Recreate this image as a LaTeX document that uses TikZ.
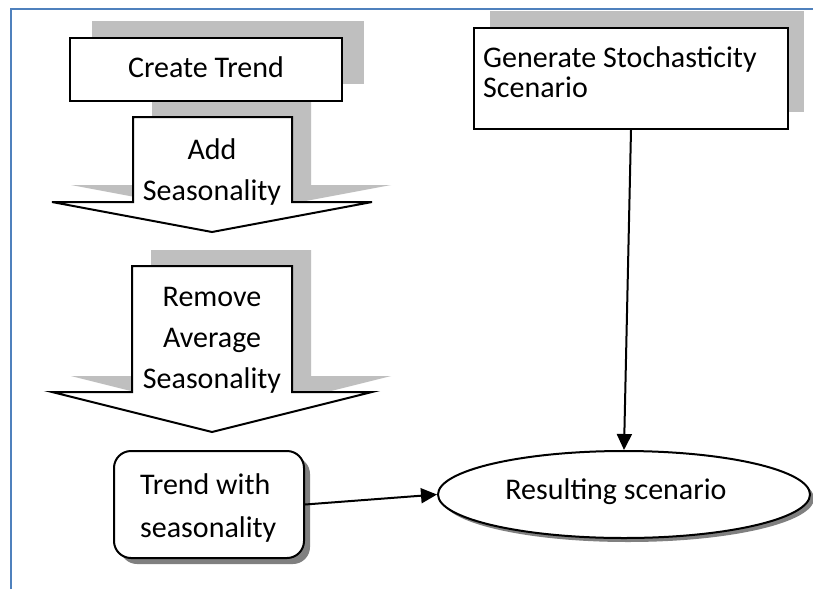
\documentclass[tikz,border=0pt]{standalone}
\usepackage{fontspec}
\setmainfont{Carlito}
\usetikzlibrary{shapes.geometric,arrows.meta,shadows}
\definecolor{framecol}{RGB}{79,129,189}
\definecolor{lightshadow}{RGB}{191,191,191}
\definecolor{darkshadow}{RGB}{128,128,128}
\begin{document}
\begin{tikzpicture}[x=1pt,y=-1pt,
  outline/.style={draw=black,line width=2pt,fill=white},
  boxshape/.style={outline,rectangle,inner sep=0pt},
  txt/.style={inner sep=0pt,font=\fontsize{30}{41}\selectfont},
  conn/.style={line width=2pt,-{Triangle[length=16pt,width=15pt]}},
  liftshadow/.style={drop shadow={shadow xshift=#1,shadow yshift=17pt,fill=lightshadow,opacity=1}},
  lowshadow/.style={drop shadow={shadow xshift=#1,shadow yshift=-#1,fill=darkshadow,opacity=1}}]
\useasboundingbox (0,0) rectangle (813,589);
\fill[white] (0,0) rectangle (813,589);

% shadows of the two block arrows
\fill[lightshadow,shift={(19,-17)}] (133,117) -- (292,117) -- (292,202) -- (372,202)
  -- (212,232) -- (52,202) -- (133,202) -- cycle;
\fill[lightshadow,shift={(19,-16)}] (132,266) -- (292,266) -- (292,392) -- (372,392)
  -- (212,432) -- (52,392) -- (132,392) -- cycle;

% boxes
\node[boxshape,liftshadow=22pt,minimum width=272pt,minimum height=63pt] (trend) at (206,69.5) {};
\node[boxshape,liftshadow=16pt,minimum width=314pt,minimum height=101pt] (gen) at (631,78.5) {};

% block arrows
\draw[outline,line join=miter] (133,117) -- (292,117) -- (292,202) -- (372,202)
  -- (212,232) -- (52,202) -- (133,202) -- cycle;
\draw[outline,line join=miter] (132,266) -- (292,266) -- (292,392) -- (372,392)
  -- (212,432) -- (52,392) -- (132,392) -- cycle;

% rounded box and ellipse
\node[outline,rectangle,rounded corners=17pt,lowshadow=6pt,minimum width=190pt,minimum height=107pt,inner sep=0pt] (tws) at (209,504.5) {};
\node[outline,ellipse,lowshadow=4pt,minimum width=372pt,minimum height=87pt,inner sep=0pt] (res) at (624,494.5) {};

% texts
\node[txt,anchor=base] (trendT) at (206,77) {Create Trend};
\node[txt,align=center] (addT) at (212,171.5) {Add\\Seasonality};
\node[txt,align=center] (remT) at (212,340) {Remove\\Average\\Seasonality};
\node[txt,align=left,anchor=west,font=\fontsize{30}{43}\selectfont] (twsT) at (140,507.5) {Trend with\\seasonality};
\node[txt,align=left,anchor=west,font=\fontsize{30}{30}\selectfont] (genT) at (483,72.5) {Generate Stochasticity\\Scenario};
\node[txt,anchor=base] (resT) at (616,499) {Resulting scenario};

% connectors
\draw[conn] (tws.east) -- (res.west);
\draw[conn] (gen.south) -- (res.north);

% page frame
\draw[framecol,line width=2.5pt] (11,589) -- (11,9) -- (813,9);
\end{tikzpicture}
\end{document}
